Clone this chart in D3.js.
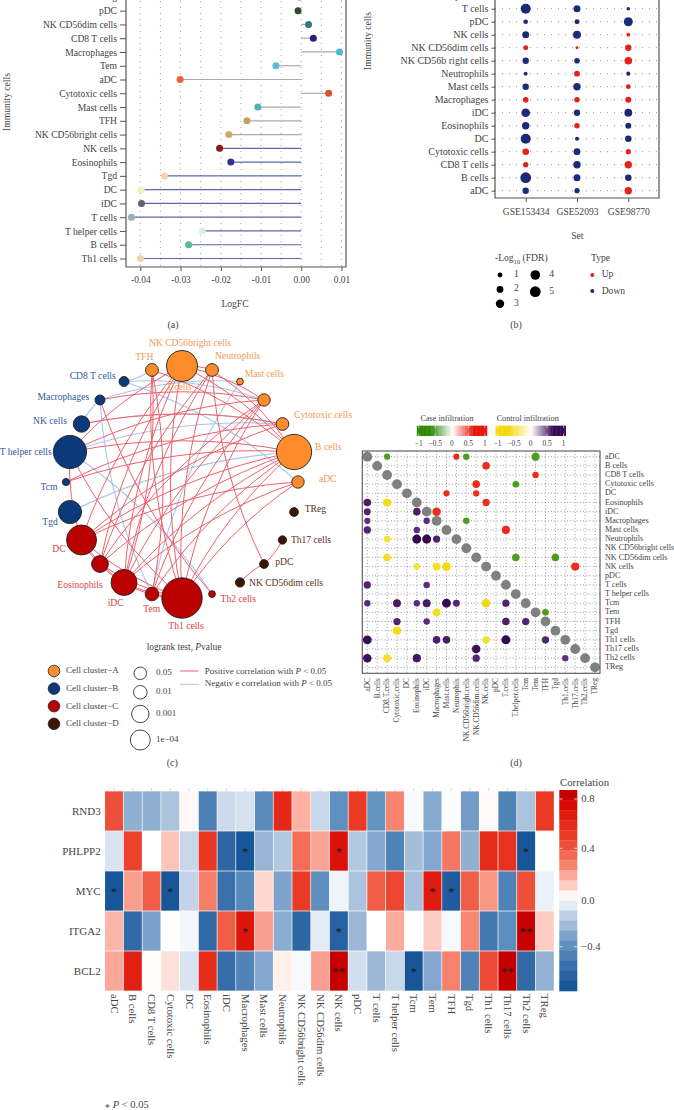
<!DOCTYPE html>
<html>
<head>
<meta charset="utf-8">
<script src="https://cdn.jsdelivr.net/npm/d3@7"></script>
<style>
body { margin: 0; background: #fff; }
svg { display: block; }
text { font-family: "Liberation Serif", serif; fill: #444; }
</style>
</head>
<body>
<svg id="chart" width="674" height="1110"></svg>
<script>
//---------------- panel (a) lollipop ----------------
var lolliCells = ["TReg", "pDC", "NK CD56dim cells", "CD8 T cells", "Macrophages", "Tem", "aDC", "Cytotoxic cells", "Mast cells", "TFH",
  "NK CD56bright cells", "NK cells", "Eosinophils", "Tgd", "DC", "iDC", "T cells", "T helper cells", "B cells", "Th1 cells"];
var lolliFC = [-0.0005, -0.0008, 0.0018, 0.003, 0.0095, -0.0063, -0.0301, 0.0068, -0.0108, -0.0135,
  -0.018, -0.0203, -0.0175, -0.034, -0.0398, -0.0397, -0.0422, -0.0246, -0.028, -0.04];
var lolliDot = ["#3a6a30", "#2d4d22", "#2f7c78", "#2c1e72", "#4eb8cc", "#5cbcd8", "#f26030", "#d2582a", "#52b0bc", "#c8a060",
  "#d8a468", "#8b1a12", "#2b3590", "#fcd0a8", "#f6f0c0", "#5a646c", "#98b0b0", "#d8ecea", "#58bc98", "#f2d0b0"];
var lolliTicks = [-0.04, -0.03, -0.02, -0.01, 0, 0.01];
var lolliGrid = [-0.04, -0.035, -0.03, -0.025, -0.02, -0.015, -0.01, -0.005, 0, 0.005, 0.01];

//---------------- panel (b) bubbles ----------------
var setNames = ["GSE153434", "GSE52093", "GSE98770"];
var bubbleCells = ["T helper cells", "T cells", "pDC", "NK cells", "NK CD56dim cells", "NK CD56b right cells", "Neutrophils", "Mast cells",
  "Macrophages", "iDC", "Eosinophils", "DC", "Cytotoxic cells", "CD8 T cells", "B cells", "aDC"];
var fdrGSE153434 = [3.4, 4.3, 0.9, 2.1, 1.05, 1.75, 0.6, 1.75, 1.35, 3.2, 2.35, 4.3, 1.85, 1.25, 5, 1.75];
var fdrGSE52093 = [0.8, 2.1, 1.05, 2.7, 0.35, 1.35, 1.45, 2.35, 1.25, 1.75, 1.25, 0.7, 2, 2.35, 2.1, 1.15];
var fdrGSE98770 = [0.8, 0.55, 3.5, 0.6, 1.75, 2.5, 0.75, 1, 1.55, 2.6, 1.55, 1.85, 1.15, 2.35, 1.85, 2.35];
var typeGSE153434 = "DDDDUDDDUDDDUUDD".split("");
var typeGSE52093 = "DDDDUDUDUDUDDDDD".split("");
var typeGSE98770 = "DDDUUUDUUDDDUUDU".split("");
var fdrLegend = [1, 2, 3, 4, 5];

//---------------- panel (c) network ----------------
// clockwise from the top of the ring
var netNodes = ["NK CD56bright cells", "Neutrophils", "Mast cells", "T cells", "Cytotoxic cells", "B cells", "aDC", "TReg", "Th17 cells", "pDC",
  "NK CD56dim cells", "Th2 cells", "Th1 cells", "Tem", "iDC", "Eosinophils", "DC", "Tgd", "Tcm", "T helper cells", "NK cells", "Macrophages", "CD8 T cells", "TFH"];
var netCluster = ["A", "A", "A", "A", "A", "A", "A", "D", "D", "D", "D", "C", "C", "C", "C", "C", "C", "B", "B", "B", "B", "B", "B", "A"];
var netLogP = [7.8, 3.2, 1.7, 3.1, 3.2, 8.8, 3.1, 2.2, 2.1, 2.2, 2.3, 1.7, 10.1, 3.4, 6.5, 4.2, 7.5, 5.8, 1.8, 8.3, 4.1, 2.5, 2.5, 3.2];
// the curve of an edge always leans to the same side of its from -> to direction
var posEdges = [
  ["TFH", "Th1 cells"], ["Tem", "TFH"], ["iDC", "TFH"], ["B cells", "TFH"],
  ["NK CD56bright cells", "Th1 cells"], ["NK CD56bright cells", "DC"], ["NK CD56bright cells", "T helper cells"],
  ["NK CD56bright cells", "Eosinophils"], ["NK CD56bright cells", "iDC"], ["Neutrophils", "NK CD56bright cells"], ["B cells", "NK CD56bright cells"], ["T cells", "NK CD56bright cells"],
  ["B cells", "Neutrophils"], ["Neutrophils", "iDC"], ["Neutrophils", "Th1 cells"], ["Neutrophils", "Eosinophils"], ["Neutrophils", "pDC"],
  ["T cells", "Th1 cells"], ["T cells", "iDC"], ["T cells", "Eosinophils"], ["T cells", "T helper cells"], ["T cells", "Tem"], ["T cells", "Macrophages"],
  ["Cytotoxic cells", "NK cells"], ["Cytotoxic cells", "DC"], ["Cytotoxic cells", "Tcm"],
  ["B cells", "T helper cells"], ["B cells", "Tcm"], ["B cells", "DC"], ["B cells", "Eosinophils"], ["B cells", "iDC"], ["B cells", "Tem"], ["B cells", "Th1 cells"],
  ["aDC", "DC"], ["aDC", "Th1 cells"], ["aDC", "iDC"],
  ["Macrophages", "Th2 cells"],
  ["pDC", "Th17 cells"], ["pDC", "NK CD56dim cells"],
  ["T helper cells", "Th1 cells"], ["T helper cells", "DC"],
  ["DC", "Eosinophils"], ["DC", "Th1 cells"], ["DC", "iDC"], ["Eosinophils", "iDC"], ["Eosinophils", "Th1 cells"], ["iDC", "Tem"], ["iDC", "Th1 cells"], ["Tem", "Th1 cells"]
];
var negEdges = [
  ["CD8 T cells", "TFH"], ["T cells", "CD8 T cells"], ["aDC", "CD8 T cells"],
  ["Macrophages", "NK cells"], ["Mast cells", "Macrophages"], ["Macrophages", "Tem"],
  ["Mast cells", "Tem"], ["Cytotoxic cells", "NK cells"], ["Cytotoxic cells", "T helper cells"], ["B cells", "Tgd"], ["Th2 cells", "T helper cells"]
];
var clusterNames = ["Cell cluster\u2212A", "Cell cluster\u2212B", "Cell cluster\u2212C", "Cell cluster\u2212D"];
var pLegend = ["0.05", "0.01", "0.001", "1e\u221204"];

//---------------- panel (d) dot matrix ----------------
var matrixCells = ["aDC", "B cells", "CD8 T cells", "Cytotoxic cells", "DC", "Eosinophils", "iDC", "Macrophages", "Mast cells", "Neutrophils",
  "NK CD56bright cells", "NK CD56dim cells", "NK cells", "pDC", "T cells", "T helper cells", "Tcm", "Tem", "TFH", "Tgd", "Th1 cells", "Th17 cells", "Th2 cells", "TReg"];
// [row, column, correlation]
var caseCells = [[0, 2, -0.4], [0, 9, 0.4], [0, 10, -0.42], [0, 17, -0.72],
  [1, 12, 0.6], [2, 17, 0.42], [3, 11, 0.6], [3, 15, -0.45], [4, 8, 0.4], [4, 11, 0.42], [5, 12, 0.55],
  [6, 7, 0.75], [7, 10, -0.45], [8, 14, 0.7], [11, 15, -0.6], [11, 19, -0.6], [12, 21, 0.7], [17, 18, -0.45]];
var controlCells = [[5, 0, 0.6], [5, 2, -0.7], [6, 0, 0.5], [6, 5, 0.6], [7, 0, 0.4], [7, 6, 0.42], [8, 0, 0.55], [8, 5, 0.42],
  [9, 2, -0.5], [9, 5, 0.85], [9, 6, 0.85], [9, 7, 0.55], [11, 2, -0.6], [12, 5, -0.45], [12, 7, -0.65], [12, 8, -0.78],
  [14, 0, 0.55], [14, 6, 0.42], [16, 0, 0.42], [16, 3, 0.65], [16, 5, 0.42], [16, 6, 0.65], [16, 8, 0.82], [16, 9, 0.5], [16, 12, -0.75], [16, 14, 0.55],
  [17, 7, -0.65], [18, 3, 0.55], [18, 6, 0.42], [18, 14, 0.6], [18, 16, 0.55], [19, 3, -0.7],
  [20, 0, 0.8], [20, 7, 0.6], [20, 8, 0.6], [20, 12, -0.55], [20, 14, 0.85], [20, 18, 0.55],
  [21, 11, 0.75], [22, 0, 0.75], [22, 2, -0.62], [22, 5, 0.7], [22, 11, 0.55], [22, 20, 0.42]];
var infiltrationTicks = [-1, -0.5, 0, 0.5, 1];

//---------------- panel (e) heatmap ----------------
var heatGenes = ["RND3", "PHLPP2", "MYC", "ITGA2", "BCL2"];
var heatCells = ["aDC", "B cells", "CD8 T cells", "Cytotoxic cells", "DC", "Eosinophils", "iDC", "Macrophages", "Mast cells", "Neutrophils",
  "NK CD56bright cells", "NK CD56dim cells", "NK cells", "pDC", "T cells", "T helper cells", "Tcm", "Tem", "TFH", "Tgd", "Th1 cells", "Th17 cells", "Th2 cells", "TReg"];
var RND3 = [0.42, -0.27, -0.27, -0.2, 0.01, -0.48, -0.12, -0.1, -0.42, 0.6, 0.16, -0.13, -0.39, 0.5, -0.38, 0.26, -0.02, -0.29, -0.01, -0.34, 0.01, -0.47, -0.2, 0.5];
var PHLPP2 = [-0.09, 0.47, 0, 0.12, -0.13, 0.52, -0.62, -0.72, -0.25, -0.18, 0.33, 0.19, 0.72, -0.18, -0.3, -0.47, -0.22, -0.3, 0.3, -0.27, 0.58, 0.55, -0.72, 0];
var MYC = [-0.75, 0.2, 0.38, -0.72, -0.14, 0.28, -0.56, -0.43, 0.08, -0.31, 0.5, -0.4, -0.04, -0.2, 0.38, 0.45, -0.21, 0.68, -0.68, 0.38, 0.22, -0.47, 0.42, -0.05];
var ITGA2 = [0.15, -0.6, -0.32, 0, -0.03, -0.6, 0.38, 0.7, 0.2, -0.28, -0.62, -0.07, -0.65, -0.24, 0, 0.17, 0, 0.1, -0.02, 0.25, -0.52, -0.4, 0.82, 0.1];
var BCL2 = [0.18, 0.65, 0.005, 0.06, -0.09, 0.58, -0.58, -0.47, -0.3, 0.03, -0.02, 0.2, 0.85, -0.11, -0.24, -0.13, -0.72, -0.3, 0.27, -0.47, 0.44, 0.85, -0.6, -0.26];
var heatStars = [[1, 7, "*"], [1, 12, "*"], [1, 22, "*"], [2, 0, "*"], [2, 3, "*"], [2, 17, "*"], [2, 18, "*"], [3, 7, "*"], [3, 12, "*"], [3, 22, "**"], [4, 12, "**"], [4, 16, "*"], [4, 21, "**"]];
var corrTicks = [0.8, 0.4, 0, -0.4];
// colour key, top to bottom, one step each
var corrSteps = ["#c60000", "#d80c06", "#e01c0f", "#e52b1a", "#ea3a25", "#ee4f3a", "#f46a52", "#f8846f", "#fba799", "#fdcdc3",
  "#fff5f0", "#e3ebf5", "#bfd0e6", "#a0bbd8", "#7fa4cc", "#6090bf", "#4d80b5", "#3a70ab", "#2a62a2", "#18569a"];
var corrStepValues = [0.83, 0.75, 0.67, 0.59, 0.5, 0.42, 0.34, 0.26, 0.18, 0.1, 0.02, -0.07, -0.15, -0.23, -0.31, -0.39, -0.48, -0.56, -0.64, -0.72];

//****************************************************************************************
var svg = d3.select("#chart");
var axisColor = "#555";
var textColor = "#444";

function label(g, x, y, str, size, anchor, color) {
  return g.append("text").attr("x", x).attr("y", y).attr("dy", "0.32em")
    .attr("text-anchor", anchor || "start")
    .style("font-size", size + "px")
    .style("fill", color || textColor)
    .text(str);
}

function styleAxis(sel) {
  sel.selectAll(".domain").remove();
  sel.selectAll("line").attr("stroke", axisColor);
  sel.selectAll("text").style("fill", textColor).style("font-family", "Liberation Serif");
}

function drawLollipop() {
  var g = svg.append("g");
  var x = d3.scaleLinear().domain([-0.04, 0.01]).range([140.3, 341.5]);
  var y = d3.scalePoint().domain(lolliCells).range([-3.1, 258.5]);
  var left = 126, right = 346, bottom = 267;

  g.selectAll(".vgrid").data(lolliGrid).enter().append("line")
    .attr("x1", function(d) { return x(d); }).attr("x2", function(d) { return x(d); })
    .attr("y1", -5).attr("y2", bottom)
    .attr("stroke", "#999").attr("stroke-width", 0.9).attr("stroke-dasharray", "1,5");

  g.selectAll(".stem").data(lolliCells).enter().append("line")
    .attr("x1", x(0))
    .attr("x2", function(d, i) { return x(lolliFC[i]); })
    .attr("y1", function(d) { return y(d); }).attr("y2", function(d) { return y(d); })
    .attr("stroke", function(d, i) { return i >= 11 ? "#5d69a8" : "#aaa"; })
    .attr("stroke-width", 1.2);

  g.selectAll(".dot").data(lolliCells).enter().append("circle")
    .attr("cx", function(d, i) { return x(lolliFC[i]); })
    .attr("cy", function(d) { return y(d); })
    .attr("r", 3.5)
    .attr("fill", function(d, i) { return lolliDot[i]; });

  g.append("path").attr("d", "M" + left + ",-5V" + bottom + "H" + right + "V-5")
    .attr("fill", "none").attr("stroke", axisColor).attr("stroke-width", 1.2);

  var ay = g.append("g").attr("transform", "translate(" + left + ",0)")
    .call(d3.axisLeft(y).tickSize(6).tickPadding(3));
  styleAxis(ay);
  ay.selectAll("text").style("font-size", "9.6px");

  var ax = g.append("g").attr("transform", "translate(0," + bottom + ")")
    .call(d3.axisBottom(x).tickValues(lolliTicks).tickSize(4).tickPadding(5)
      .tickFormat(function(d) { return d3.format(".2f")(d).replace("\u2212", "-"); }));
  styleAxis(ax);
  ax.selectAll("text").style("font-size", "9.4px");

  label(g, 235, 304, "LogFC", 9.6, "middle");
  label(g, 173, 324.5, "(a)", 10, "middle");
  label(g, 0, 0, "Immunity cells", 9.6, "middle").attr("transform", "translate(7,102) rotate(-90)");
}

function drawBubbles() {
  var g = svg.append("g");
  var x = d3.scalePoint().domain(setNames).range([525.7, 628.3]);
  var y = d3.scalePoint().domain(bubbleCells).range([-4.3, 190.7]);
  var r = d3.scaleSqrt().domain([0, 5]).range([0, 5.4]);
  var color = { U: "#e8201c", D: "#1b2a78" };
  var left = 495, right = 659, bottom = 198;

  g.selectAll(".row").data(bubbleCells).enter().append("line")
    .attr("x1", left).attr("x2", right)
    .attr("y1", function(d) { return y(d); }).attr("y2", function(d) { return y(d); })
    .attr("stroke", "#888").attr("stroke-width", 0.9).attr("stroke-dasharray", "1,6");

  var fdr = [fdrGSE153434, fdrGSE52093, fdrGSE98770];
  var types = [typeGSE153434, typeGSE52093, typeGSE98770];
  setNames.forEach(function(s, k) {
    g.selectAll(".b" + k).data(bubbleCells).enter().append("circle")
      .attr("cx", x(s))
      .attr("cy", function(d) { return y(d); })
      .attr("r", function(d, i) { return r(fdr[k][i]); })
      .attr("fill", function(d, i) { return color[types[k][i]]; });
  });

  g.append("path").attr("d", "M" + left + ",-5V" + bottom + "H" + right + "V-5")
    .attr("fill", "none").attr("stroke", axisColor).attr("stroke-width", 1.2);

  var ay = g.append("g").attr("transform", "translate(" + left + ",0)")
    .call(d3.axisLeft(y).tickSize(3.5).tickPadding(3));
  styleAxis(ay);
  ay.selectAll("text").style("font-size", "10px");

  var ax = g.append("g").attr("transform", "translate(0," + bottom + ")")
    .call(d3.axisBottom(x).tickSize(4).tickPadding(6));
  styleAxis(ax);
  ax.selectAll("text").style("font-size", "9.6px");

  label(g, 577.3, 236, "Set", 9.6, "middle");
  label(g, 0, 0, "Immunity cells", 9.6, "middle").attr("transform", "translate(368,41) rotate(-90)");

  // size legend
  var t = label(g, 495, 258, "-Log", 9.6);
  t.append("tspan").attr("dy", "2.5").style("font-size", "6.5px").text("10");
  t.append("tspan").attr("dy", "-2.5").text(" (FDR)");
  fdrLegend.forEach(function(v, i) {
    var cx = i < 3 ? 500 : 535.3;
    var cy = i < 3 ? 275 + i * 14.4 : 275 + (i - 3) * 16.7;
    g.append("circle").attr("cx", cx).attr("cy", cy).attr("r", r(v)).attr("fill", "#000");
    label(g, cx + 14, cy - 1, v, 9.6);
  });

  label(g, 591, 258, "Type", 9.6);
  g.append("circle").attr("cx", 592.3).attr("cy", 275).attr("r", 2).attr("fill", color.U);
  g.append("circle").attr("cx", 592.3).attr("cy", 291).attr("r", 2).attr("fill", color.D);
  label(g, 601.7, 274, "Up", 9.6);
  label(g, 601.7, 291, "Down", 9.6);
  label(g, 516, 324.5, "(b)", 10, "middle");
}

function drawNetwork() {
  var g = svg.append("g");
  var cx = 182, cy = 482, ringR = 116;
  var nodeFill = { A: "#ff8c2b", B: "#0b3a7a", C: "#bb0000", D: "#3d1505" };
  var nodeText = { A: "#f6994f", B: "#2f5a98", C: "#dc3f42", D: "#5b3022" };
  var angle = d3.scaleLinear().domain([0, netNodes.length]).range([0, 2 * Math.PI]);
  var r = d3.scaleLinear().domain([0, 10]).range([0, 20]);

  var pos = {};
  netNodes.forEach(function(n, i) {
    pos[n] = [cx + ringR * Math.sin(angle(i)), cy - ringR * Math.cos(angle(i))];
  });

  function curve(d) {
    var a = pos[d[0]], b = pos[d[1]];
    var dx = b[0] - a[0], dy = b[1] - a[1];
    var mx = (a[0] + b[0]) / 2 - dy * 0.1, my = (a[1] + b[1]) / 2 + dx * 0.1;
    return "M" + a[0] + "," + a[1] + "Q" + mx + "," + my + " " + b[0] + "," + b[1];
  }

  g.selectAll(".neg").data(negEdges).enter().append("path")
    .attr("d", curve).attr("fill", "none").attr("stroke", "#a6c6ea").attr("stroke-width", 1.1);
  g.selectAll(".pos").data(posEdges).enter().append("path")
    .attr("d", curve).attr("fill", "none").attr("stroke", "#f0616b").attr("stroke-width", 1);

  g.selectAll(".node").data(netNodes).enter().append("circle")
    .attr("cx", function(d) { return pos[d][0]; })
    .attr("cy", function(d) { return pos[d][1]; })
    .attr("r", function(d, i) { return r(netLogP[i]); })
    .attr("fill", function(d, i) { return nodeFill[netCluster[i]]; })
    .attr("stroke", "#222").attr("stroke-width", 0.9);

  // label places as they fall in the figure, "T cells" really does sit inside the ring
  var labelAt = {
    "NK CD56bright cells": [190, 343], "TFH": [144.3, 357.3], "Neutrophils": [237.7, 355.7], "Mast cells": [264.3, 373.7], "T cells": [179, 387.3],
    "CD8 T cells": [92.7, 375.7], "Macrophages": [63.3, 396.7], "NK cells": [50, 421], "T helper cells": [25.7, 452.3], "Tcm": [49, 487], "Tgd": [50, 522],
    "DC": [59, 549.3], "Eosinophils": [80, 584.7], "iDC": [115.7, 602.7], "Tem": [151.7, 609.3], "Th1 cells": [186, 625.7], "Th2 cells": [238.3, 598.7],
    "NK CD56dim cells": [286, 582.7], "pDC": [284.3, 562.3], "Th17 cells": [311, 539.7], "TReg": [315.3, 509.3], "aDC": [327.7, 479.3], "B cells": [328.3, 447],
    "Cytotoxic cells": [323, 415]
  };
  netNodes.forEach(function(n, i) {
    label(g, labelAt[n][0], labelAt[n][1], n, 9.6, "middle", nodeText[netCluster[i]]);
  });

  var t = label(g, 184, 647, "logrank test, ", 9.4, "middle");
  t.append("tspan").style("font-style", "italic").text("P");
  t.append("tspan").text("value");

  // cluster legend
  clusterNames.forEach(function(n, i) {
    var y = 671 + i * 17.6;
    g.append("circle").attr("cx", 54).attr("cy", y).attr("r", 5.8)
      .attr("fill", nodeFill["ABCD"[i]]).attr("stroke", "#222").attr("stroke-width", 0.8);
    label(g, 66, y - 0.5, n, 9);
  });

  // size legend
  var sizeY = [673.3, 692.3, 714, 740], sizeR = [6.3, 6.8, 8.7, 10];
  pLegend.forEach(function(p, i) {
    g.append("circle").attr("cx", 140.3).attr("cy", sizeY[i]).attr("r", sizeR[i])
      .attr("fill", "none").attr("stroke", "#333").attr("stroke-width", 0.9);
    label(g, 156, sizeY[i] - 1, p, 9);
  });

  // edge legend
  g.append("line").attr("x1", 180).attr("x2", 198.3).attr("y1", 671).attr("y2", 671).attr("stroke", "#f0616b");
  g.append("line").attr("x1", 180).attr("x2", 198.3).attr("y1", 684.3).attr("y2", 684.3).attr("stroke", "#a6c6ea");
  var l1 = label(g, 204.7, 671, "Positive correlation with ", 9);
  l1.append("tspan").style("font-style", "italic").text("P");
  l1.append("tspan").text(" < 0.05");
  var l2 = label(g, 204.7, 683, "Negativ e correlation with ", 9);
  l2.append("tspan").style("font-style", "italic").text("P");
  l2.append("tspan").text(" < 0.05");

  label(g, 172.3, 762.7, "(c)", 10, "middle");
}

function drawMatrix() {
  var g = svg.append("g");
  var x = d3.scalePoint().domain(d3.range(24)).range([367.3, 595]);
  var y = d3.scalePoint().domain(d3.range(24)).range([456.7, 667.3]);
  var r = d3.scaleSqrt().domain([0, 1]).range([0, 4.9]);
  var left = 362.3, right = 600, top = 451, bottom = 673.3;

  g.selectAll(".gx").data(d3.range(24)).enter().append("line")
    .attr("x1", function(d) { return x(d); }).attr("x2", function(d) { return x(d); })
    .attr("y1", top).attr("y2", bottom)
    .attr("stroke", "#777").attr("stroke-width", 0.8).attr("stroke-dasharray", "0.9,2.3");
  g.selectAll(".gy").data(d3.range(24)).enter().append("line")
    .attr("y1", function(d) { return y(d); }).attr("y2", function(d) { return y(d); })
    .attr("x1", left).attr("x2", right)
    .attr("stroke", "#777").attr("stroke-width", 0.8).attr("stroke-dasharray", "0.9,2.3");

  var caseColor = d3.scaleLinear().domain([-1, 0, 1]).range(["#2e8b0a", "#fff", "#e8140a"]);
  var controlColor = d3.scaleLinear().domain([-1, 0, 1]).range(["#f4d90e", "#fff", "#3a0a55"]);
  var dotCase = function(v) { return v > 0 ? "#ee2c1c" : "#4c9e18"; };
  var dotControl = d3.scaleLinear().domain([-0.8, -0.4, 0.4, 0.85]).range(["#f4d90e", "#f6e43c", "#5e2f80", "#36074f"]);

  g.selectAll(".diag").data(d3.range(24)).enter().append("circle")
    .attr("cx", function(d) { return x(d); }).attr("cy", function(d) { return y(d); })
    .attr("r", r(1)).attr("fill", "#808080");
  g.selectAll(".case").data(caseCells).enter().append("circle")
    .attr("cx", function(d) { return x(d[1]); }).attr("cy", function(d) { return y(d[0]); })
    .attr("r", function(d) { return r(Math.abs(d[2])); })
    .attr("fill", function(d) { return dotCase(d[2]); });
  g.selectAll(".control").data(controlCells).enter().append("circle")
    .attr("cx", function(d) { return x(d[1]); }).attr("cy", function(d) { return y(d[0]); })
    .attr("r", function(d) { return r(Math.abs(d[2])); })
    .attr("fill", function(d) { return dotControl(d[2]); });

  g.append("rect").attr("x", left).attr("y", top).attr("width", right - left).attr("height", bottom - top)
    .attr("fill", "none").attr("stroke", axisColor).attr("stroke-width", 1.1);

  matrixCells.forEach(function(n, i) {
    label(g, 605, y(i) - 0.5, n, 8.1);
    label(g, 0, 0, n.replace(/ /g, "."), 7.4, "end").attr("transform", "translate(" + x(i) + ",678) rotate(-90)");
  });

  // infiltration keys
  function key(cx, scale, cls) {
    var kx = d3.scaleLinear().domain([-1, 1]).range([cx - 33, cx + 33]);
    g.selectAll("rect." + cls).data(d3.range(-1.06, 1.06, 0.04)).enter().append("rect")
      .attr("class", cls)
      .attr("x", function(d) { return kx(d); }).attr("y", 425.7)
      .attr("width", 1.8).attr("height", 10.3)
      .attr("fill", function(d) { return scale(Math.max(-1, Math.min(1, d * 1.5))); });
    infiltrationTicks.forEach(function(v) {
      g.append("line").attr("x1", kx(v)).attr("x2", kx(v)).attr("y1", 425.7).attr("y2", 428).attr("stroke", "#fff").attr("stroke-width", 0.6);
      g.append("line").attr("x1", kx(v)).attr("x2", kx(v)).attr("y1", 433.7).attr("y2", 436).attr("stroke", "#fff").attr("stroke-width", 0.6);
      label(g, kx(v), 443.3, String(v).replace("-", "\u2212"), 7.4, "middle");
    });
  }
  key(451.8, caseColor, "keyCase");
  key(530.5, controlColor, "keyControl");
  label(g, 447, 418.3, "Case infiltration", 8.2, "middle");
  label(g, 527.7, 418.3, "Control infiltration", 8.2, "middle");
  label(g, 516, 762.7, "(d)", 10, "middle");
}

function drawHeatmap() {
  var g = svg.append("g");
  var x = d3.scaleBand().domain(heatCells).range([104.7, 554.2]);
  var y = d3.scaleBand().domain(heatGenes).range([791, 991]);
  var rows = { RND3: RND3, PHLPP2: PHLPP2, MYC: MYC, ITGA2: ITGA2, BCL2: BCL2 };

  // white right at zero, the key's steps on either side
  var stops = corrStepValues.slice(), colors = corrSteps.slice();
  stops.splice(11, 0, 0);
  colors.splice(11, 0, "#ffffff");
  var color = d3.scaleLinear().domain(stops).range(colors).clamp(true);

  heatGenes.forEach(function(gene) {
    g.selectAll(".c" + gene).data(heatCells).enter().append("rect")
      .attr("class", "c" + gene)
      .attr("x", function(d) { return x(d) + 0.35; })
      .attr("y", y(gene) + 0.35)
      .attr("width", x.bandwidth() - 0.7)
      .attr("height", y.bandwidth() - 0.7)
      .attr("fill", function(d, i) { return color(rows[gene][i]); });
  });

  g.selectAll(".star").data(heatStars).enter().append("text")
    .attr("x", function(d) { return x(heatCells[d[1]]) + x.bandwidth() / 2; })
    .attr("y", function(d) { return y(heatGenes[d[0]]) + y.bandwidth() / 2 + 5; })
    .attr("text-anchor", "middle")
    .style("font-size", "13px").style("fill", "#1a1a1a")
    .text(function(d) { return d[2]; });

  var ax = g.append("g").attr("transform", "translate(0,991)")
    .call(d3.axisBottom(x).tickSize(0).tickPadding(0));
  ax.selectAll(".domain").remove();
  ax.selectAll("text")
    .attr("transform", "rotate(90)").attr("text-anchor", "start")
    .attr("x", 3).attr("y", 0).attr("dy", "0.32em")
    .style("font-family", "Liberation Serif")
    .style("font-size", "10.7px").style("fill", textColor);

  var ticksTop = g.append("g").attr("transform", "translate(0,791)")
    .call(d3.axisTop(x).tickSize(3).tickFormat(""));
  ticksTop.selectAll(".domain").remove();
  ticksTop.selectAll("line").attr("stroke", "#ddd");

  var ay = g.append("g").attr("transform", "translate(104.7,0)")
    .call(d3.axisLeft(y).tickSize(1.5).tickPadding(2.5));
  ay.selectAll(".domain").remove();
  ay.selectAll("line").attr("stroke", "#ddd");
  ay.selectAll("text").style("font-family", "Liberation Serif").style("font-size", "11px").style("fill", textColor);

  // correlation key
  var ky = d3.scaleBand().domain(corrSteps).range([790, 991]);
  g.selectAll(".key").data(corrSteps).enter().append("rect")
    .attr("x", 559.3).attr("y", function(d) { return ky(d); })
    .attr("width", 18).attr("height", ky.bandwidth() + 0.3)
    .attr("fill", function(d) { return d; });
  var tickY = d3.scaleLinear().domain([0.8, 0.4, 0, -0.4]).range([799, 848.3, 900.7, 946.7]);
  corrTicks.forEach(function(v) {
    g.append("line").attr("x1", 559.3).attr("x2", 562.5).attr("y1", tickY(v)).attr("y2", tickY(v)).attr("stroke", "#fff").attr("stroke-width", 0.7);
    g.append("line").attr("x1", 574).attr("x2", 577.3).attr("y1", tickY(v)).attr("y2", tickY(v)).attr("stroke", "#fff").attr("stroke-width", 0.7);
    label(g, 581.3, tickY(v), d3.format(".1f")(v).replace("-", "\u2212"), 10.6);
  });
  label(g, 560, 782.3, "Correlation", 10.8);

  // significance note
  label(g, 105, 1108, "*", 9.5);
  var n = label(g, 112.7, 1105, "", 10.5);
  n.append("tspan").style("font-style", "italic").text("P");
  n.append("tspan").text(" < 0.05");
}

drawLollipop();
drawBubbles();
drawNetwork();
drawMatrix();
drawHeatmap();
</script>
</body>
</html>
